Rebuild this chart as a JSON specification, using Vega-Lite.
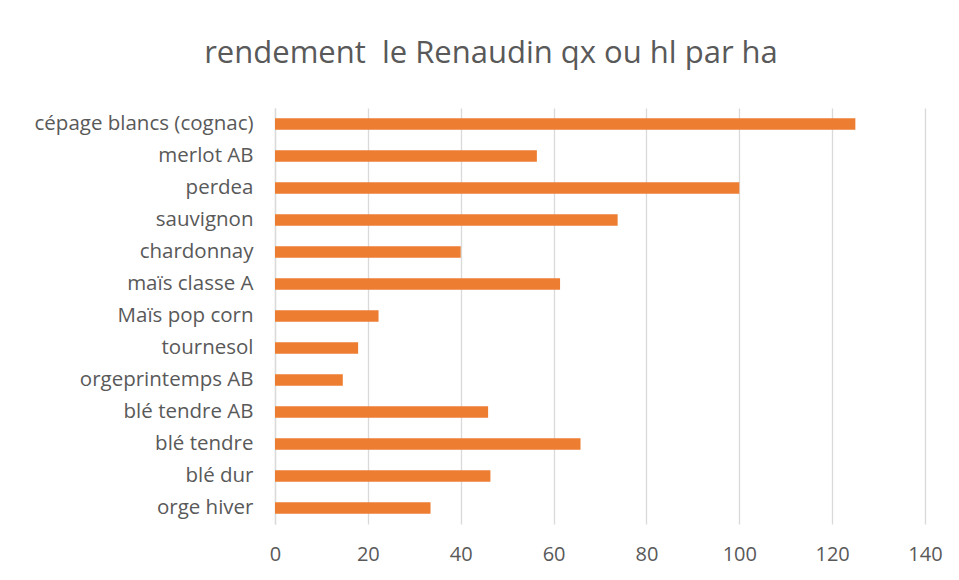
{
  "$schema": "https://vega.github.io/schema/vega-lite/v6.json",
  "width": 650,
  "height": 416,
  "autosize": {"type": "none"},
  "padding": {"left": 275, "top": 108, "right": 34, "bottom": 56},
  "background": "white",
  "title": {
    "text": "rendement \u00a0le Renaudin qx ou hl par ha",
    "font": "Open Sans",
    "fontSize": 31,
    "fontWeight": "normal",
    "color": "#595959",
    "anchor": "middle",
    "dx": -109,
    "offset": 38
  },
  "data": {
    "values": [
      {"culture": "cépage blancs (cognac)", "rendement": 125},
      {"culture": "merlot AB", "rendement": 56.4},
      {"culture": "perdea", "rendement": 100},
      {"culture": "sauvignon", "rendement": 73.8},
      {"culture": "chardonnay", "rendement": 40},
      {"culture": "maïs classe A", "rendement": 61.4},
      {"culture": "Maïs pop corn", "rendement": 22.3},
      {"culture": "tournesol", "rendement": 17.9},
      {"culture": "orgeprintemps AB", "rendement": 14.6},
      {"culture": "blé tendre AB", "rendement": 45.9},
      {"culture": "blé tendre\u00a0\u00a0", "rendement": 65.8},
      {"culture": "blé dur", "rendement": 46.4},
      {"culture": "orge hiver", "rendement": 33.5}
    ]
  },
  "mark": {"type": "bar", "color": "#ED7D31"},
  "encoding": {
    "y": {
      "field": "culture",
      "type": "nominal",
      "sort": null,
      "scale": {"paddingInner": 0.64, "paddingOuter": 0.32},
      "axis": {
        "title": null,
        "ticks": false,
        "domain": true,
        "domainColor": "#d9d9d9",
        "domainWidth": 1.3,
        "labelFont": "Open Sans",
        "labelFontSize": 20.5,
        "labelColor": "#595959",
        "labelPadding": 22,
        "labelLimit": 400
      }
    },
    "x": {
      "field": "rendement",
      "type": "quantitative",
      "scale": {"domain": [0, 140], "nice": false},
      "axis": {
        "title": null,
        "values": [0, 20, 40, 60, 80, 100, 120, 140],
        "ticks": false,
        "domain": false,
        "grid": true,
        "gridColor": "#d9d9d9",
        "gridWidth": 1.3,
        "labelFont": "Open Sans",
        "labelFontSize": 20,
        "labelColor": "#595959",
        "labelPadding": 20,
        "labelFlush": false
      }
    }
  },
  "config": {"view": {"stroke": null}}
}
